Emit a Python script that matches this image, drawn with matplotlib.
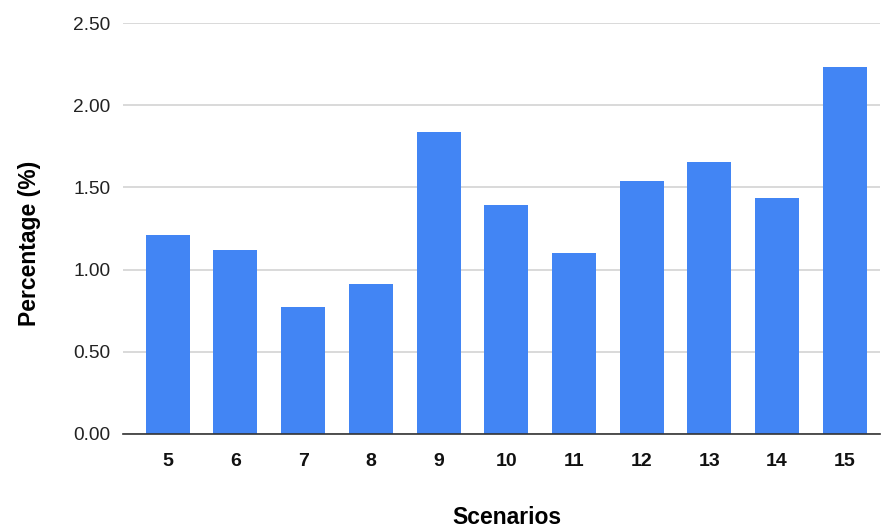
import matplotlib
matplotlib.use("Agg")
import matplotlib.pyplot as plt

categories = ["5", "6", "7", "8", "9", "10", "11", "12", "13", "14", "15"]
values = [1.21, 1.12, 0.77, 0.91, 1.84, 1.39, 1.10, 1.54, 1.655, 1.435, 2.235]
yticks = [0.0, 0.5, 1.0, 1.5, 2.0, 2.5]

plt.rcParams['font.family'] = ['Liberation Sans', 'DejaVu Sans']

fig = plt.figure(figsize=(8.83, 5.29), dpi=100)
ax = fig.add_axes([123/883, 1-434/529, (880-123)/883, (434-23)/529])

x = list(range(len(categories)))
ax.bar(x, values, width=0.65, color='#4285F4', zorder=3)

ax.set_xlim(-0.66, 10.52)
ax.set_ylim(0, 2.5)
ax.set_yticks(yticks)
ax.set_yticklabels([f"{v:.2f}" for v in yticks], fontsize=13.8, color='#222222')
ax.set_xticks(x)
ax.set_xticklabels(categories, fontsize=14, fontweight='bold', color='#111111')
ax.tick_params(axis='both', length=0)
ax.tick_params(axis='y', pad=9)
ax.tick_params(axis='x', pad=14)

ax.grid(axis='y', color='#d3d3d3', linewidth=1.2, zorder=0)
for s in ['top', 'right', 'left']:
    ax.spines[s].set_visible(False)
ax.spines['bottom'].set_color('#333333')
ax.spines['bottom'].set_linewidth(1.2)
ax.spines['bottom'].set_zorder(4)

ax.set_xlabel("Scenarios", fontsize=16.5, fontweight='bold')
ax.set_ylabel("Percentage (%)", fontsize=16.5, fontweight='bold')
ax.xaxis.set_label_coords((507-123)/757, (434-518)/411)
ax.yaxis.set_label_coords((30-123)/757, (434-243)/411)
ax.xaxis.label.set_verticalalignment('center')
ax.yaxis.label.set_verticalalignment('center')

fig.savefig("out.png", dpi=100)
